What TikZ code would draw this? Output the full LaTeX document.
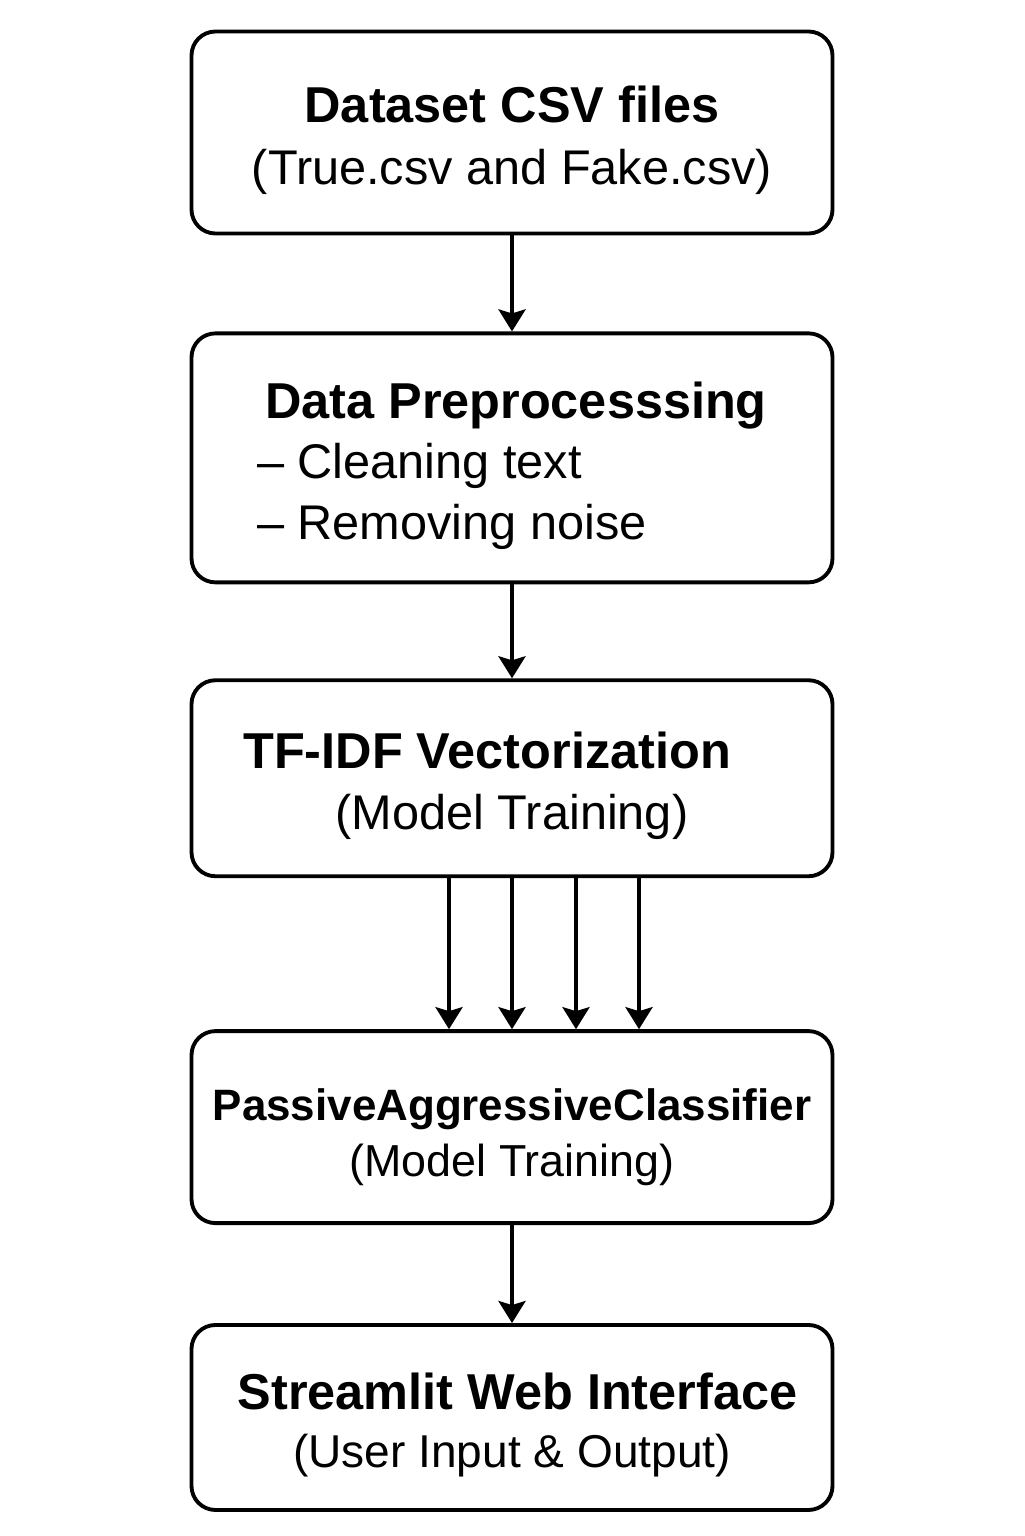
\documentclass[tikz,border=0pt]{standalone}
\usepackage{fontspec}
\setmainfont{Liberation Sans}
\usetikzlibrary{positioning,arrows.meta}
\newcommand{\boxstrut}{\rule{0pt}{0.52cm}}
\newcommand{\ttl}[2][14.35]{{\fontsize{#1}{17}\selectfont\bfseries #2}}

\begin{document}
\begin{tikzpicture}%
  \tikzstyle{boxn}=[rectangle,draw,line width=1.1pt,rounded corners=2.4mm,minimum width=6.41cm,inner sep=0,align=center,font=\fontsize{13.85}{17.9}\selectfont]
  \tikzstyle{arr}=[line width=1.1pt,-{Stealth[length=2.2mm,width=2.7mm,inset=0.4mm]}]
  \useasboundingbox (0,0) rectangle (10.24,-15.36);
  \node(1)[boxn,minimum height=2.02cm] at (5.12,-1.325)
    {\boxstrut\ttl{Dataset CSV files}\\(True.csv and Fake.csv)};
  \node(2)[boxn,minimum height=2.49cm,below=0.96cm of 1,align=left,font=\fontsize{13.85}{17.3}\selectfont]
    {\boxstrut\hspace*{0.08cm}\ttl{Data Preprocesssing}\\– Cleaning text\\– Removing noise};
  \node(3)[boxn,minimum height=1.96cm,below=0.94cm of 2,font=\fontsize{13.85}{17.3}\selectfont]
    {\boxstrut\ttl{TF-IDF Vectorization}\hspace*{0.5cm}\\(Model Training)};
  \node(4)[boxn,minimum height=1.92cm,below=1.51cm of 3,font=\fontsize{12.75}{15.9}\selectfont]
    {\boxstrut\ttl[12.5]{PassiveAggressiveClassifier}\\(Model Training)};
  \node(5)[boxn,minimum height=1.85cm,below=0.98cm of 4,font=\fontsize{13.1}{16.5}\selectfont]
    {\boxstrut\hspace*{0.11cm}\ttl{Streamlit Web Interface}\\(User Input \& Output)};
  \draw[arr] (1) -- (2);
  \draw[arr] (2) -- (3);
  \foreach \dx in {-0.63,0,0.64,1.27}
    \draw[arr] ([xshift=\dx cm]3.south) -- ([xshift=\dx cm]4.north);
  \draw[arr] (4) -- (5);
\end{tikzpicture}
\end{document}
